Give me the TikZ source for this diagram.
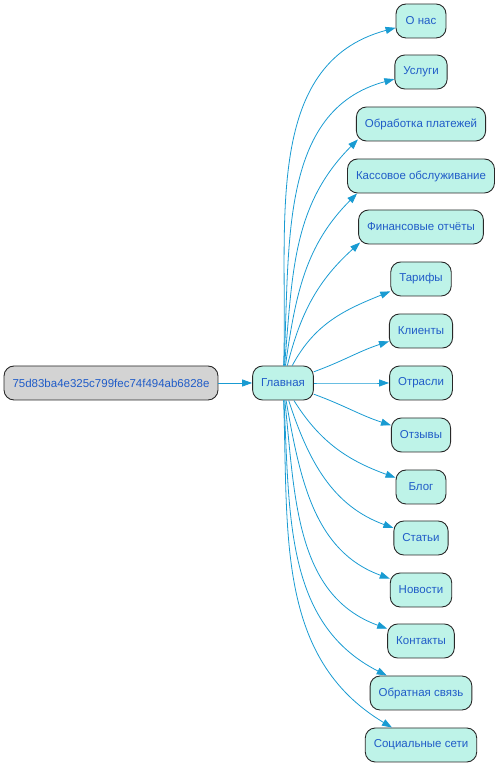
\documentclass[tikz,border=0pt]{standalone}
\usepackage{fontspec}
\setmainfont{Liberation Sans}
\usepackage{tikz}
\usetikzlibrary{arrows.meta, positioning}
\usepackage{xcolor}
\definecolor{pagefill}{RGB}{190,243,232}
\definecolor{hashfill}{RGB}{211,211,211}
\definecolor{labelcol}{RGB}{32,92,200}
\definecolor{edgecol}{RGB}{25,155,210}
\definecolor{bordercol}{RGB}{40,40,40}
\tikzset{
  pagebox/.style={draw=bordercol, line width=0.9pt, rounded corners=10pt,
                  fill=pagefill, text=labelcol, inner xsep=8.5pt,
                  minimum height=34pt, minimum width=50pt,
                  font=\fontsize{11.5}{13}\selectfont},
  hashbox/.style={pagebox, fill=hashfill},
  link/.style={edgecol, line width=0.8pt,
               -{Triangle[length=10pt,width=7pt]}}
}

\begin{document}
\begin{tikzpicture}[x=1pt,y=1pt]
\useasboundingbox (0,0) rectangle (499,768);

% ── Root and home page ────────────────────────────────────────────────────────
\node[hashbox] (root) at (111,385) {75d83ba4e325c799fec74f494ab6828e};
\node[pagebox] (home) at (283,385) {Главная};
\draw[link] (root) -- (home);

% ── Child pages ──────────────────────────────────────────────────────────────
\foreach \id/\ypos/\txt in {
    about/747/О нас,
    services/696/Услуги,
    payments/644/Обработка платежей,
    cash/592/Кассовое обслуживание,
    reports/541/Финансовые отчёты,
    tariffs/489/Тарифы,
    clients/437/Клиенты,
    branches/385/Отрасли,
    reviews/333/Отзывы,
    blog/281/Блог,
    articles/230/Статьи,
    news/178/Новости,
    contacts/127/Контакты,
    feedback/75/Обратная связь,
    social/23/Социальные сети}
  \node[pagebox] (\id) at (421,\ypos) {\txt};

% ── Links from the home page ─────────────────────────────────────────────────
\foreach \id/\aout/\ain in {
    about/88/195, services/87/195, tariffs/62/202, clients/20/198,
    branches/0/180, reviews/-20/162, blog/-58/160, articles/-72/160,
    news/-80/160, contacts/-84/160, feedback/-87/153, social/-88/149}
  \draw[link] (home) to[out=\aout, in=\ain] (\id);

% corner entries
\draw[link] (home) to[out=85, in=225] ([shift={(2pt,2pt)}]payments.south west);
\draw[link] (home) to[out=82, in=225] ([xshift=10pt]cash.south west);
\draw[link] (home) to[out=76, in=222] ([shift={(2pt,2pt)}]reports.south west);

\end{tikzpicture}
\end{document}
